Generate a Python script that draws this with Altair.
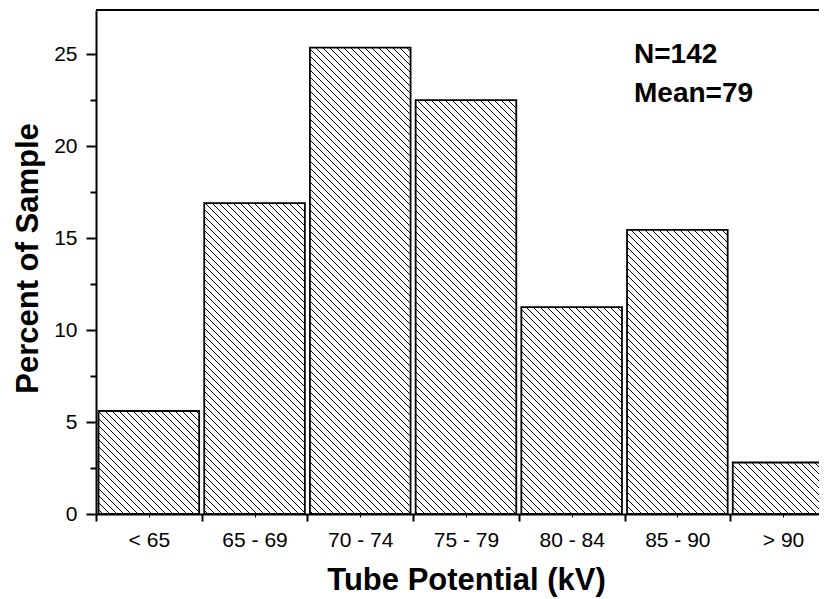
import math
import json
import altair as alt
import pandas as pd

# ---- data ----
categories = ["< 65", "65 - 69", "70 - 74", "75 - 79", "80 - 84", "85 - 90", "> 90"]
percent = [5.6, 16.9, 25.35, 22.5, 11.25, 15.45, 2.8]
y_major = [0, 5, 10, 15, 20, 25]
y_minor = [2.5, 7.5, 12.5, 17.5, 22.5]
annotation = "N=142\nMean=79"

# ---- layout ----
W, H = 723, 504
XMAX, YMAX = 6.84, 27.4
INSET = 0.024          # half gap between bars, in bin units
PXX, PXY = W / XMAX, H / YMAX
STEP = 7.0             # hatch spacing (px, horizontal)
FONT = "Liberation Sans"

n = len(categories)
bars = pd.DataFrame({
    "cat": categories,
    "pct": percent,
    "start": [i + INSET for i in range(n)],
    "end": [i + 1 - INSET for i in range(n)],
    "base": [0] * n,
})

# hatch segments (lines running top-left -> bottom-right), derived from the bars
rows = []
for i, v in enumerate(percent):
    L = (i + INSET) * PXX
    R = (i + 1 - INSET) * PXX
    T = H - v * PXY
    B = H
    kmin = math.ceil((L - B) / STEP)
    kmax = math.floor((R - T) / STEP)
    for k in range(kmin, kmax + 1):
        c = k * STEP
        x0 = max(L, T + c)
        x1 = min(R, B + c)
        if x1 - x0 < 0.8:
            continue
        rows.append({
            "x": x0 / PXX, "y": (H - (x0 - c)) / PXY,
            "x2": x1 / PXX, "y2": (H - (x1 - c)) / PXY,
        })
hatch = pd.DataFrame(rows)

xscale = alt.Scale(domain=[0, XMAX], nice=False, zero=False)
yscale = alt.Scale(domain=[0, YMAX], nice=False, zero=False)

label_expr = json.dumps(categories) + "[floor(datum.value)]"

edge_axis = alt.Axis(orient="bottom", values=list(range(n + 1)), labels=False,
                     ticks=True, tickSize=7, tickWidth=2, domain=True, domainWidth=2,
                     grid=False, title=None)
label_axis = alt.Axis(orient="bottom", values=[i + 0.5 for i in range(n)],
                      labelExpr=label_expr, ticks=True, tickSize=3, tickWidth=1,
                      domain=False, grid=False, labelPadding=12, labelFontSize=21,
                      labelFlush=False, labelOverlap=False, labelBound=False,
                      title="Tube Potential (kV)", titleFontSize=31,
                      titleFontWeight="bold", titleX=370, titleY=75,
                      titleBaseline="alphabetic", titleAlign="center")
y_axis = alt.Axis(orient="left", values=y_major, tickSize=10, tickWidth=2,
                  domain=True, domainWidth=2, grid=False, labelPadding=9,
                  labelFontSize=21, labelFlush=False, labelOverlap=False,
                  title="Percent of Sample", titleFontSize=31, titleFontWeight="bold",
                  titleAngle=270, titleX=-59, titleY=248,
                  titleBaseline="alphabetic", titleAlign="center")
y_minor_axis = alt.Axis(orient="left", values=y_minor, tickSize=6, tickWidth=2,
                        labels=False, domain=False, grid=False, title=None)

hatch_layer = alt.Chart(hatch).mark_rule(color="black", strokeWidth=1, clip=True).encode(
    x=alt.X("x:Q", scale=xscale, axis=edge_axis),
    x2="x2:Q",
    y=alt.Y("y:Q", scale=yscale, axis=y_axis),
    y2="y2:Q",
)

outline_layer = alt.Chart(bars).mark_rect(
    fill="white", fillOpacity=0, stroke="black", strokeWidth=1.8, clip=True
).encode(
    x=alt.X("start:Q", scale=xscale, axis=label_axis),
    x2="end:Q",
    y=alt.Y("pct:Q", scale=yscale, axis=y_minor_axis),
    y2="base:Q",
)

frame_top = alt.Chart(bars).mark_rule(color="black", strokeWidth=2).encode(
    x=alt.value(0), x2=alt.value(W), y=alt.value(0)
)

text_layer = alt.Chart(pd.DataFrame({"t": [annotation]})).mark_text(
    align="left", baseline="alphabetic", fontSize=28, fontWeight="bold",
    font=FONT, lineBreak="\n", lineHeight=39, color="black"
).encode(x=alt.value(538), y=alt.value(53), text="t:N")

chart = alt.layer(hatch_layer, outline_layer, frame_top, text_layer).resolve_axis(
    x="independent", y="independent"
).properties(
    width=W, height=H,
    autosize=alt.AutoSizeParams(type="none"),
    padding={"left": 88, "top": 2, "right": 0, "bottom": 86},
    background="white",
).configure_view(stroke=None).configure_axis(
    labelFont=FONT, titleFont=FONT, labelColor="black", titleColor="black",
    tickColor="black", domainColor="black"
).configure_text(font=FONT)

chart.save("out.html", embed_options={"renderer": "svg", "actions": False})
